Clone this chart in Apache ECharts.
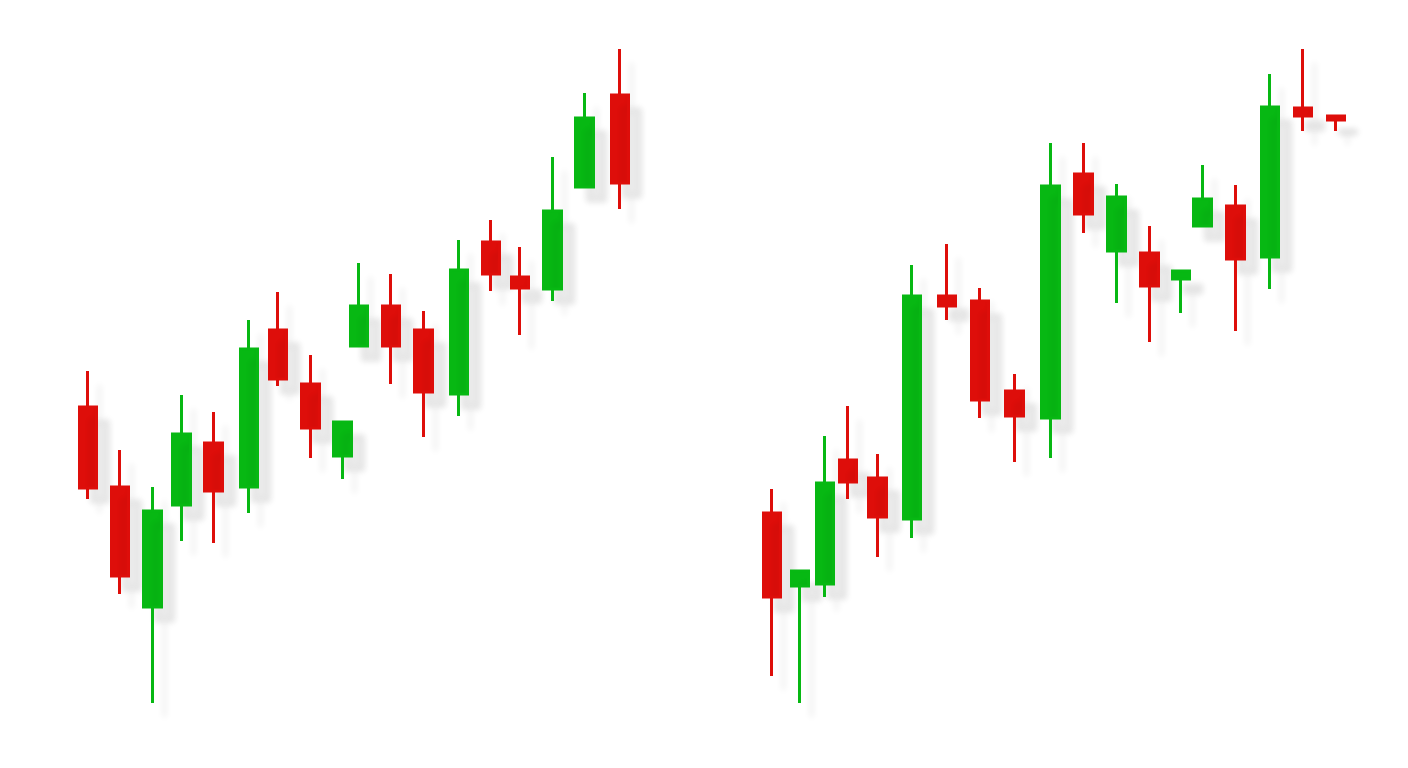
<!DOCTYPE html>
<html>
<head>
<meta charset="utf-8">
<script src="https://cdn.jsdelivr.net/npm/echarts@6/dist/echarts.min.js"></script>
<style>
html,body{margin:0;padding:0;background:#ffffff;}
#chart{width:1408px;height:768px;}
</style>
</head>
<body>
<div id="chart"></div>
<script>
// Left chart: time positions and [open, close, low, high]
const leftTime = [0, 1, 2, 2.9, 3.9, 5, 5.9, 6.9, 7.9, 8.4, 9.4, 10.4, 11.5, 12.5, 13.4, 14.4, 15.4, 16.5];
const leftOpen  = [36.1, 28.1, 16.1, 26.3, 32.5, 28.1, 43.8, 38.4, 31.2, 42.2, 46.2, 43.8, 37.4, 52.6, 49.1, 47.9, 58.1, 67.3];
const leftClose = [28.0, 19.2, 25.7, 33.4, 27.7, 41.9, 38.9, 34.0, 34.6, 46.2, 42.2, 37.6, 49.8, 49.4, 48.0, 55.7, 65.0, 58.5];
const leftLow   = [26.9, 17.4, 6.5, 22.7, 22.5, 25.5, 38.2, 31.0, 28.9, 42.2, 38.4, 33.1, 35.2, 47.7, 43.3, 46.7, 58.1, 55.9];
const leftHigh  = [39.7, 31.8, 28.1, 37.3, 35.6, 44.8, 47.6, 41.3, 34.6, 50.5, 49.4, 45.7, 52.8, 54.8, 52.1, 61.1, 67.5, 71.9];

// Right chart
const rightTime = [0, 0.85, 1.6, 2.3, 3.2, 4.25, 5.3, 6.3, 7.35, 8.45, 9.45, 10.45, 11.45, 12.4, 13.05, 14.05, 15.1, 16.1, 17.1];
const rightOpen  = [25.5, 18.2, 18.4, 30.8, 29.0, 24.9, 47.2, 46.7, 37.7, 35.0, 59.4, 51.7, 51.5, 48.9, 54.2, 56.2, 51.1, 66.0, 65.2];
const rightClose = [17.1, 19.7, 28.5, 28.6, 25.1, 47.2, 46.2, 36.8, 35.2, 58.2, 55.4, 57.1, 48.2, 49.7, 56.9, 50.9, 66.1, 65.2, 64.8];
const rightLow   = [9.2, 6.5, 17.1, 26.9, 21.1, 23.0, 44.8, 35.0, 30.6, 31.0, 53.5, 46.5, 42.6, 45.5, 54.2, 43.7, 47.9, 63.7, 63.7];
const rightHigh  = [27.9, 19.7, 33.2, 36.2, 31.4, 50.3, 52.4, 48.0, 39.4, 62.5, 62.5, 58.4, 54.2, 49.7, 60.3, 58.3, 69.4, 71.9, 65.2];

const UP = '#07b813';
const DOWN = '#de0e0a';

function build(t, o, c, l, h) {
  return t.map((x, i) => [x, o[i], c[i], l[i], h[i]]);
}

const chart = echarts.init(document.getElementById('chart'), null, {renderer: 'canvas'});

const itemStyle = {
  color: UP, color0: DOWN, borderColor: UP, borderColor0: DOWN, borderWidth: 3,
  shadowColor: 'rgba(0,0,0,0.085)', shadowBlur: 6, shadowOffsetX: 12, shadowOffsetY: 14
};

const yAxisCommon = {type: 'value', min: 0, max: 76.8, show: false, splitLine: {show: false}};

chart.setOption({
  backgroundColor: '#ffffff',
  animation: false,
  grid: [
    {left: 88, right: 788, top: 0, bottom: 0},
    {left: 772, right: 72, top: 0, bottom: 0}
  ],
  xAxis: [
    {type: 'value', gridIndex: 0, min: 0, max: 16.5, show: false, splitLine: {show: false}},
    {type: 'value', gridIndex: 1, min: 0, max: 17.1, show: false, splitLine: {show: false}}
  ],
  yAxis: [
    Object.assign({gridIndex: 0}, yAxisCommon),
    Object.assign({gridIndex: 1}, yAxisCommon)
  ],
  series: [
    {
      type: 'candlestick', xAxisIndex: 0, yAxisIndex: 0, clip: false,
      barWidth: 18, itemStyle: itemStyle,
      encode: {x: 0, y: [1, 2, 3, 4]},
      data: build(leftTime, leftOpen, leftClose, leftLow, leftHigh)
    },
    {
      type: 'candlestick', xAxisIndex: 1, yAxisIndex: 1, clip: false,
      barWidth: 18, itemStyle: itemStyle,
      encode: {x: 0, y: [1, 2, 3, 4]},
      data: build(rightTime, rightOpen, rightClose, rightLow, rightHigh)
    }
  ]
});
</script>
</body>
</html>
